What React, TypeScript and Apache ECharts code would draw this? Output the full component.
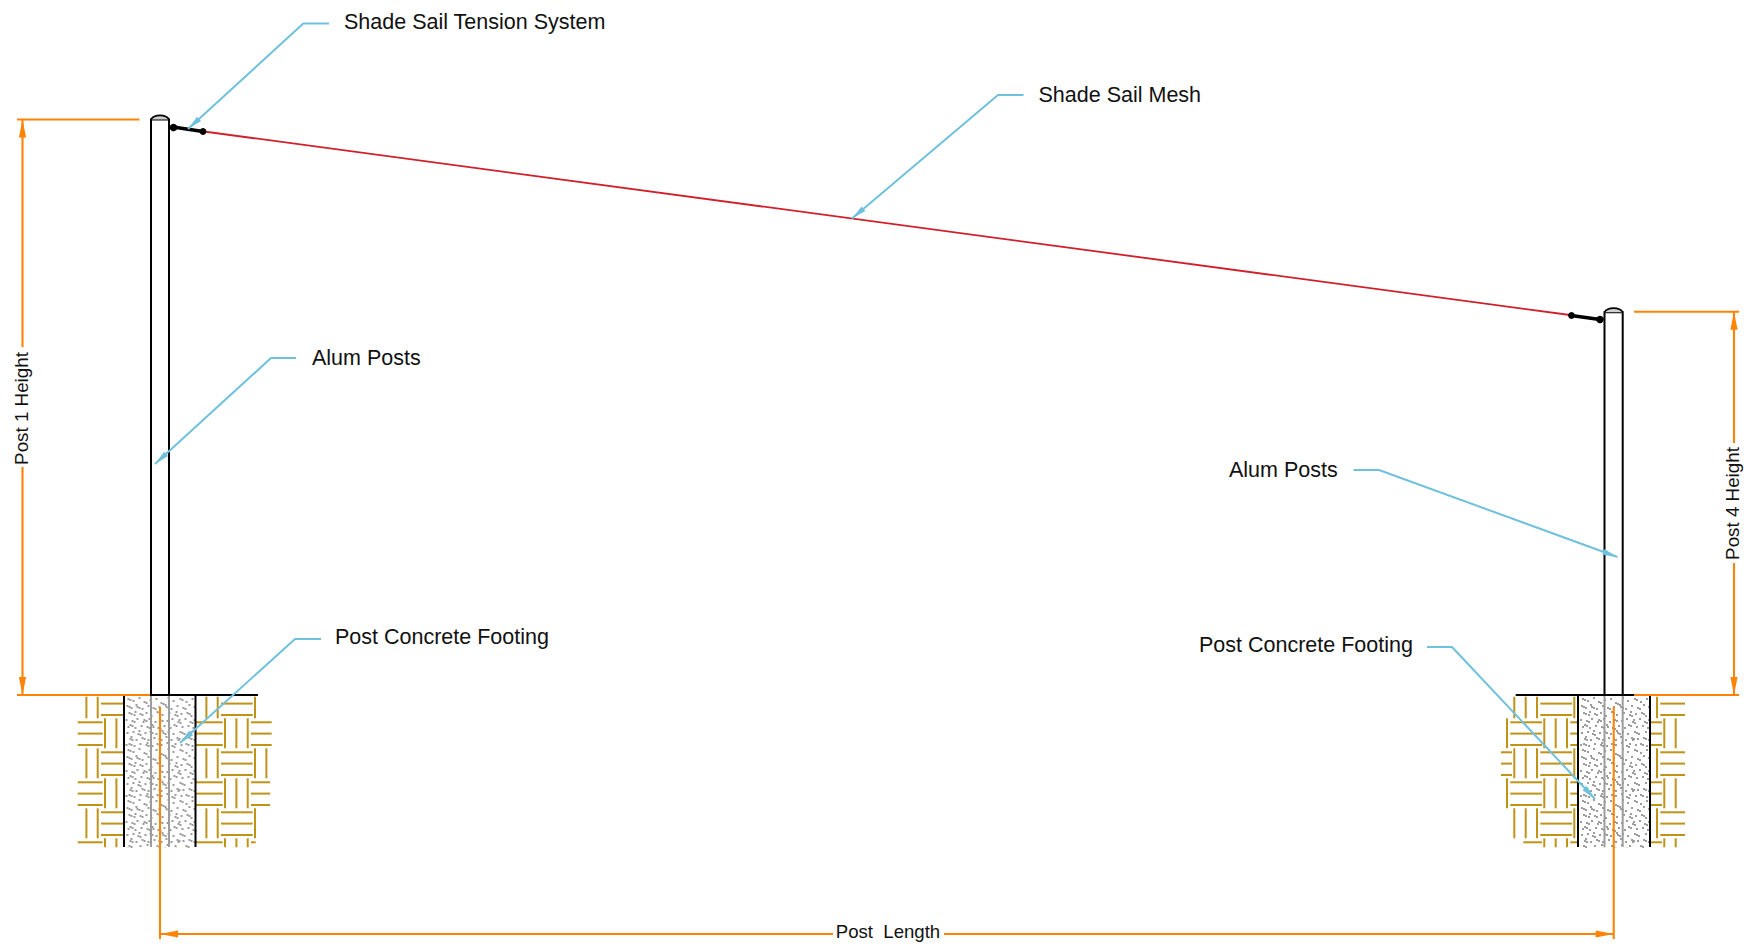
import React, { useEffect, useRef } from "react";
import * as echarts from "echarts";

const WIDTH = 1754;
const HEIGHT = 948;
const FONT = '"Liberation Sans", Arial, sans-serif';

const labelTexts = ["Shade Sail Tension System", "Shade Sail Mesh", "Alum Posts", "Post Concrete Footing", "Alum Posts", "Post Concrete Footing", "Post  Length", "Post 1 Height", "Post 4 Height"];
const labelX = [344, 1038.5, 312, 335, 1229, 1199, 888, 21, 1732];
const labelY = [22, 95.2, 358.2, 637.2, 470.2, 645.2, 931.5, 408.5, 503.5];
const labelSize = [21.5, 21.5, 21.5, 21.5, 21.5, 21.5, 18.6, 18.8, 18.8];
const labelRotate = [0, 0, 0, 0, 0, 0, 0, 90, 90];
const labelAlign = ["left", "left", "left", "left", "left", "left", "center", "center", "center"];

const leaders = [
  [[329, 23.5], [303.3, 23.5], [188, 129]],
  [[1023.5, 95], [998, 95], [852, 218.5]],
  [[296, 358], [271, 358], [155, 464]],
  [[321, 639], [295, 639], [180, 743]],
  [[1353.5, 470], [1379, 470], [1617.5, 557]],
  [[1427, 647], [1452, 647], [1595, 799]],
];

const sailMesh = [[204, 131.5], [1570, 315]];
const tensionerSegments = [[173, 127, 203, 131.5], [1571, 315.5, 1600, 319.5]];
const tensionerDots = [[173.5, 127.5, 3.8], [203, 131.5, 3.4], [1571.5, 315.5, 3.4], [1600, 319.5, 3.8]];

const postBodies = [
  [151, 119.5, 169, 695],
  [1604.5, 312.2, 1622.7, 695],
];
const postInFooting = [
  [151, 695, 151, 847], [169, 695, 169, 847],
  [1604.5, 695, 1604.5, 847], [1622.7, 695, 1622.7, 847],
];
const footings = [
  [124, 695, 195.5, 847],
  [1578, 695, 1650, 847],
];
const groundLines = [[78, 695, 258, 695], [1515.7, 695, 1634, 695]];

const dimensionSegments = [
  [17, 119.5, 139.5, 119.5],
  [17, 695, 150, 695],
  [22.5, 119.5, 22.5, 347],
  [22.5, 467, 22.5, 695],
  [1634, 311.7, 1739, 311.7],
  [1634, 695, 1739, 695],
  [1734, 311.7, 1734, 443],
  [1734, 563, 1734, 695],
  [160, 707, 160, 939],
  [1613.7, 707, 1613.7, 939],
  [160, 934, 833, 934],
  [944, 934, 1613.7, 934],
];
const dimensionArrows = [
  [22.5, 119.5, 0, 1],
  [22.5, 695, 0, -1],
  [1734, 311.7, 0, 1],
  [1734, 695, 0, -1],
  [160, 934, 1, 0],
  [1613.7, 934, -1, 0],
];

const hatchRowsLeft = [[77.7, 256.7], [77.7, 271.7], [77.7, 268.3], [77.7, 270], [77.7, 256.7], [77.7, 255.7]];
const hatchRowsRight = [[1513.3, 1685], [1506.7, 1685], [1501, 1685], [1506.7, 1685], [1513.3, 1685], [1523.3, 1685]];
const hatchOriginLeft = 101.7;
const hatchOriginRight = 1541;
const hatchTop = 696.7;
const hatchBottom = 847.3;
const hatchRowStart = 688.3;
const hatchCell = 30;
const hatchLinesV = [3.3, 14.7, 26];
const hatchLinesH = [4, 15.3, 26.7];

const speckleTile = [
  [3,2],[8,4],[14,1],[19,5],[25,3],[31,2],[36,6],[43,1],[48,4],[55,2],[61,5],[67,2],
  [2,9],[6,11],[11,8],[12,10],[17,12],[23,9],[28,11],[34,10],[40,8],[41,10],[46,12],[52,9],[58,11],[64,8],[69,10],
  [4,16],[9,18],[10,15],[15,17],[21,16],[26,19],[32,15],[37,18],[44,16],[50,18],[51,15],[56,17],[62,16],[66,19],
  [1,23],[7,24],[12,22],[18,25],[19,23],[24,22],[30,25],[35,23],[42,24],[47,22],[53,25],[54,23],[60,22],[65,25],[69,23],
  [3,30],[5,28],[10,31],[16,29],[22,30],[27,28],[28,30],[33,31],[39,29],[45,31],[49,28],[57,30],[63,29],[68,31],
  [2,36],[8,35],[13,37],[14,34],[20,36],[25,35],[31,37],[37,34],[38,36],[43,35],[48,37],[55,35],[59,37],[66,35],
  [5,42],[6,40],[11,43],[17,41],[23,43],[29,41],[34,42],[41,40],[46,43],[52,41],[53,43],[58,42],[64,41],[69,43],
  [1,48],[4,47],[9,49],[15,47],[21,48],[22,46],[27,49],[32,47],[36,48],[42,46],[47,49],[50,47],[56,48],[61,47],[67,49],
];
const speckleOffsetsY = [696, 747, 798];
const speckleOffsetsX = [124.5, 1579];

function lineSeries(data: number[][], color: string, width: number, z: number) {
  return {
    type: "custom",
    z,
    silent: true,
    clip: false,
    coordinateSystem: "cartesian2d",
    encode: { x: [0, 2], y: [1, 3] },
    data,
    renderItem: (_p: any, api: any) => {
      const a = api.coord([api.value(0), api.value(1)]);
      const b = api.coord([api.value(2), api.value(3)]);
      return {
        type: "line",
        shape: { x1: a[0], y1: a[1], x2: b[0], y2: b[1] },
        style: { stroke: color, lineWidth: width, lineCap: "butt" },
      };
    },
  };
}

function hatchSegments(rows: number[][], originX: number) {
  const horizontal: number[][] = [];
  const vertical: number[][] = [];
  rows.forEach((row, j) => {
    const rowTop = hatchRowStart + j * hatchCell;
    for (let i = -2; i <= 5; i++) {
      const cellLeft = originX + i * hatchCell;
      const isVertical = Math.abs(i + j) % 2 === 1;
      if (isVertical) {
        hatchLinesV.forEach((offset) => {
          const x = cellLeft + offset;
          if (x < row[0] || x > row[1]) return;
          const y1 = Math.max(rowTop, hatchTop);
          const y2 = Math.min(rowTop + hatchCell, hatchBottom);
          vertical.push([x, y1, x, y2]);
        });
      } else {
        hatchLinesH.forEach((offset) => {
          const y = rowTop + offset;
          if (y < hatchTop || y > hatchBottom) return;
          const x1 = Math.max(cellLeft - 0.7, row[0]);
          const x2 = Math.min(cellLeft + hatchCell + 1, row[1]);
          if (x2 > x1) horizontal.push([x1, y, x2, y]);
        });
      }
    }
  });
  return horizontal.concat(vertical);
}

function arrowSeries(data: number[][], color: string, length: number, half: number, z: number) {
  return {
    type: "custom",
    z,
    silent: true,
    clip: false,
    coordinateSystem: "cartesian2d",
    encode: { x: 0, y: 1 },
    data,
    renderItem: (_p: any, api: any) => {
      const tip = api.coord([api.value(0), api.value(1)]);
      const dx = api.value(2);
      const dy = api.value(3);
      const bx = tip[0] + dx * length;
      const by = tip[1] + dy * length;
      return {
        type: "polygon",
        shape: { points: [tip, [bx - dy * half, by + dx * half], [bx + dy * half, by - dx * half]] },
        style: { fill: color },
      };
    },
  };
}

function buildOption() {
  const blue = "#6fc1dc";
  const orange = "#ff8305";
  const gold = "#bf9316";
  const grey = "#9c9c9c";

  const leaderArrows = leaders.map((l) => {
    const a = l[2];
    const b = l[1];
    const len = Math.hypot(b[0] - a[0], b[1] - a[1]);
    return [a[0], a[1], (b[0] - a[0]) / len, (b[1] - a[1]) / len];
  });

  const speckles: number[][] = [];
  speckleOffsetsX.forEach((ox) =>
    speckleOffsetsY.forEach((oy) =>
      speckleTile.forEach((d, k) => {
        if (oy + d[1] < 846) {
          speckles.push([ox + d[0], oy + d[1]]);
          if (k % 3 === 0) speckles.push([ox + d[0] + 2, oy + d[1] + 1]);
        }
      })
    )
  );

  return {
    animation: false,
    backgroundColor: "#ffffff",
    grid: { left: 0, right: 0, top: 0, bottom: 0 },
    xAxis: { type: "value", min: 0, max: WIDTH, show: false },
    yAxis: { type: "value", min: 0, max: HEIGHT, inverse: true, show: false },
    series: [
      lineSeries(hatchSegments(hatchRowsLeft, hatchOriginLeft), gold, 2, 1),
      lineSeries(hatchSegments(hatchRowsRight, hatchOriginRight), gold, 2, 1),
      {
        type: "custom", z: 2, silent: true, clip: false,
        encode: { x: [0, 2], y: [1, 3] },
        data: footings,
        renderItem: (_p: any, api: any) => {
          const a = api.coord([api.value(0), api.value(1)]);
          const b = api.coord([api.value(2), api.value(3)]);
          return { type: "rect", shape: { x: a[0], y: a[1], width: b[0] - a[0], height: b[1] - a[1] }, style: { fill: "#ffffff" } };
        },
      },
      {
        type: "custom", z: 3, silent: true, clip: false,
        encode: { x: 0, y: 1 },
        data: speckles,
        renderItem: (_p: any, api: any) => {
          const a = api.coord([api.value(0), api.value(1)]);
          return { type: "rect", shape: { x: a[0], y: a[1], width: 2, height: 2 }, style: { fill: grey } };
        },
      },
      lineSeries(postInFooting, grey, 2, 4),
      lineSeries(footings.flatMap((f) => [[f[0], f[1], f[0], f[3]], [f[2], f[1], f[2], f[3]]]), "#000000", 2, 5),
      lineSeries(groundLines, "#000000", 2, 5),
      {
        type: "custom", z: 6, silent: true, clip: false,
        encode: { x: [0, 2], y: [1, 3] },
        data: postBodies,
        renderItem: (_p: any, api: any) => {
          const a = api.coord([api.value(0), api.value(1)]);
          const b = api.coord([api.value(2), api.value(3)]);
          return {
            type: "group",
            children: [
              { type: "rect", shape: { x: a[0], y: a[1], width: b[0] - a[0], height: b[1] - a[1] }, style: { fill: "#ffffff", stroke: "#000000", lineWidth: 2 } },
              { type: "bezierCurve", shape: { x1: a[0], y1: a[1], x2: b[0], y2: a[1], cpx1: a[0] + 3, cpy1: a[1] - 5.5, cpx2: b[0] - 3, cpy2: a[1] - 5.5 }, style: { fill: "#cfcfcf", stroke: "#000000", lineWidth: 1.6 } },
            ],
          };
        },
      },
      {
        type: "line", z: 7, silent: true, clip: false, showSymbol: false, symbol: "none",
        data: sailMesh,
        lineStyle: { color: "#d0202c", width: 1.8 },
      },
      lineSeries(tensionerSegments, "#000000", 3.4, 8),
      {
        type: "custom", z: 8, silent: true, clip: false,
        encode: { x: 0, y: 1 },
        data: tensionerDots,
        renderItem: (_p: any, api: any) => {
          const a = api.coord([api.value(0), api.value(1)]);
          return { type: "circle", shape: { cx: a[0], cy: a[1], r: api.value(2) }, style: { fill: "#000000" } };
        },
      },
      ...leaders.map((l) => ({
        type: "line", z: 9, silent: true, clip: false, showSymbol: false, symbol: "none",
        data: l,
        lineStyle: { color: blue, width: 2 },
      })),
      arrowSeries(leaderArrows, blue, 15, 3, 9),
      lineSeries(dimensionSegments, orange, 2.1, 10),
      arrowSeries(dimensionArrows, orange, 18, 3.6, 10),
      {
        type: "custom", z: 11, silent: true, clip: false,
        encode: { x: 0, y: 1 },
        data: labelX.map((x, i) => [x, labelY[i]]),
        renderItem: (p: any, api: any) => {
          const i = p.dataIndex;
          const a = api.coord([api.value(0), api.value(1)]);
          return {
            type: "text",
            x: a[0],
            y: a[1],
            rotation: (labelRotate[i] * Math.PI) / 180,
            style: {
              text: labelTexts[i],
              fill: "#111111",
              font: `${labelSize[i]}px ${FONT}`,
              align: labelAlign[i],
              verticalAlign: "middle",
            },
          };
        },
      },
    ],
  };
}

export default function App() {
  const ref = useRef<HTMLDivElement>(null);
  useEffect(() => {
    if (!ref.current) return;
    const chart = echarts.init(ref.current, undefined, { renderer: "svg" });
    chart.setOption(buildOption() as any);
    return () => chart.dispose();
  }, []);
  return <div ref={ref} style={{ position: "fixed", left: 0, top: 0, width: WIDTH, height: HEIGHT, background: "#ffffff" }} />;
}
